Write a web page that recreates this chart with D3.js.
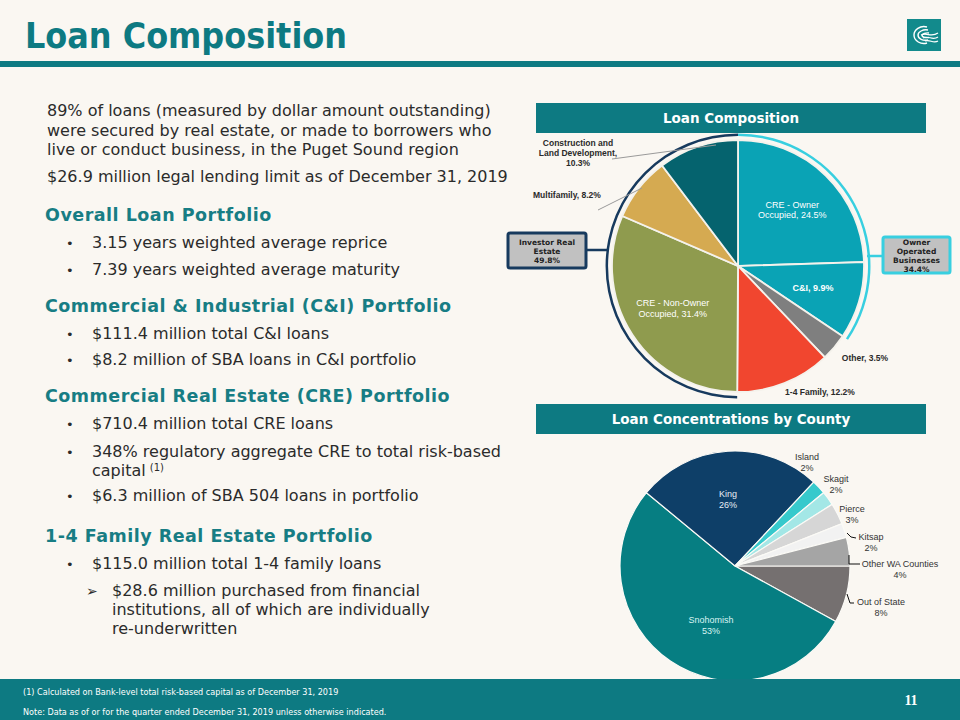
<!DOCTYPE html>
<html><head><meta charset="utf-8">
<script src="https://cdn.jsdelivr.net/npm/d3@7"></script>
<style>html,body{margin:0;padding:0;background:#faf7f2;} svg{display:block}</style>
</head><body><svg id="c" width="960" height="720"></svg>
<script>
// ---------------- DATA ----------------
const loanCategories = ["CRE - Owner Occupied","C&I","Other","1-4 Family","CRE - Non-Owner Occupied","Multifamily","Construction and Land Development"];
const loanValues = [24.5, 9.9, 3.5, 12.2, 31.4, 8.2, 10.3];
const loanLabelLines = [["CRE - Owner","Occupied, 24.5%"],["C&I, 9.9%"],["Other, 3.5%"],["1-4 Family, 12.2%"],["CRE - Non-Owner","Occupied, 31.4%"],["Multifamily, 8.2%"],["Construction and","Land Development,","10.3%"]];
const groupNames = ["Owner Operated Businesses","Investor Real Estate"];
const groupValues = [34.4, 49.8];
const countyCategories = ["Out of State","Snohomish","King","Island","Skagit","Pierce","Kitsap","Other WA Counties"];
const countyValues = [8, 53, 26, 2, 2, 3, 2, 4];

const introLines = ["89% of loans (measured by dollar amount outstanding)","were secured by real estate, or made to borrowers who","live or conduct business, in the Puget Sound region"];
const limitLine = "$26.9 million legal lending limit as of December 31, 2019";
const sections = [
  {heading:"Overall Loan Portfolio", items:[{t:"b",lines:["3.15 years weighted average reprice"]},{t:"b",lines:["7.39 years weighted average maturity"]}]},
  {heading:"Commercial & Industrial (C&I) Portfolio", items:[{t:"b",lines:["$111.4 million total C&I loans"]},{t:"b",lines:["$8.2 million of SBA loans in C&I portfolio"]}]},
  {heading:"Commercial Real Estate (CRE) Portfolio", items:[{t:"b",lines:["$710.4 million total CRE loans"]},{t:"b",lines:["348% regulatory aggregate CRE to total risk-based","capital"],sup:"(1)"},{t:"b",lines:["$6.3 million of SBA 504 loans in portfolio"]}]},
  {heading:"1-4 Family Real Estate Portfolio", items:[{t:"b",lines:["$115.0 million total 1-4 family loans"]},{t:"a",lines:["$28.6 million purchased from financial","institutions, all of which are individually","re-underwritten"]}]}
];
const footnotes = ["(1) Calculated on Bank-level total risk-based capital  as of December 31, 2019","Note: Data as of or for the quarter ended December 31, 2019 unless otherwise indicated."];
const pageNumber = "11";

// ---------------- STYLES ----------------
const TEAL = "#0d7a82";
const HEAD = "#177d84";
const TXT = "#2b2b2b";
const loanColors = ["#0aa3b5","#0aa3b5","#7f7f7f","#f1462f","#8f9b4e","#d5aa51","#05636e"];
const countyColors = ["#757070","#067e82","#0e3f68","#36c9cc","#a3e7e6","#d6d6d6","#f2f2f2","#a5a5a5"];
const BODY = "'DejaVu Sans', Verdana, sans-serif";

const svg = d3.select("#c");
svg.append("rect").attr("width",960).attr("height",720).attr("fill","#faf7f2");

// Title
svg.append("text").attr("x",25).attr("y",48).attr("fill",TEAL)
  .style("font-family","'DejaVu Sans Condensed','DejaVu Sans',sans-serif").style("font-weight","bold").style("font-size","35.5px")
  .text("Loan Composition");
svg.append("rect").attr("x",0).attr("y",61).attr("width",960).attr("height",6).attr("fill",TEAL);

// Logo
const logo = svg.append("g").attr("transform","translate(907,19)");
logo.append("rect").attr("width",34).attr("height",32).attr("fill","#128a8c");
["M20,8 C13,6 7,11 7,16 C7,22 14,26 20,24","M21,11 C16,10 11,13 11,16 C11,20 16,22 21,21","M22,14 C19,13.5 15,15 15,16.5 C15,18 18,19 22,18.5"].forEach(p=>{
  logo.append("path").attr("d",p).attr("fill","none").attr("stroke","#fff").attr("stroke-width",1.4);
});
["M14,16 C20,13 24,19 31,14","M16,19 C22,16 25,22 31,18","M18,22 C23,20 26,25 31,22"].forEach(p=>{
  logo.append("path").attr("d",p).attr("fill","none").attr("stroke","#fff").attr("stroke-width",1.2);
});

// ---------------- LEFT TEXT ----------------
const left = svg.append("g").style("font-family",BODY);
introLines.forEach((l,i)=>{
  left.append("text").attr("x",47).attr("y",116+i*19.5).attr("fill",TXT).style("font-size","16px").text(l);
});
left.append("text").attr("x",47).attr("y",182).attr("fill",TXT).style("font-size","16px").text(limitLine);

const headingY = [221,312,402,542];
const itemY = [[[248],[275]],[[339],[365]],[[429],[457,476],[501]],[[569],[596,615,634]]];
sections.forEach((s,si)=>{
  left.append("text").attr("x",45).attr("y",headingY[si]).attr("fill",HEAD)
    .style("font-size","17.5px").style("font-weight","bold").style("letter-spacing","0.5px").text(s.heading);
  s.items.forEach((it,ii)=>{
    const ys = itemY[si][ii];
    if(it.t==="b"){
      left.append("text").attr("x",66).attr("y",ys[0]).attr("fill",TXT).style("font-size","13px").text("•");
    } else {
      left.append("text").attr("x",86).attr("y",ys[0]).attr("fill",TXT).style("font-size","14px").style("font-weight","bold").text("➢");
    }
    const x0 = it.t==="b" ? 92 : 112;
    it.lines.forEach((ln,li)=>{
      const t = left.append("text").attr("x",x0).attr("y",ys[li]).attr("fill",TXT).style("font-size","16px").text(ln);
      if(it.sup && li===it.lines.length-1){
        t.append("tspan").attr("dx",4).attr("dy",-5).style("font-size","10px").text(it.sup);
      }
    });
  });
});

// ---------------- PANEL HEADERS ----------------
function header(y, label){
  svg.append("rect").attr("x",536).attr("y",y).attr("width",390).attr("height",30).attr("fill",TEAL);
  svg.append("text").attr("x",731).attr("y",y+20).attr("text-anchor","middle").attr("fill","#fff")
    .style("font-family",BODY).style("font-weight","bold").style("font-size","13.5px").text(label);
}
header(103,"Loan Composition");
header(404,"Loan Concentrations by County");

// ---------------- PIE 1 ----------------
const c1 = {x:738, y:266}, R1 = 126;
const pie1 = d3.pie().sort(null).value(d=>d);
const arcs1 = pie1(loanValues);
const g1 = svg.append("g").attr("transform",`translate(${c1.x},${c1.y})`);
const arc1 = d3.arc().innerRadius(0).outerRadius(R1);
g1.selectAll("path.s").data(arcs1).enter().append("path").attr("class","s")
  .attr("d",arc1).attr("fill",(d,i)=>loanColors[i]).attr("stroke","#f4f2ec").attr("stroke-width",1.8);

// group arcs
const ringArc = d3.arc().innerRadius(130).outerRadius(132.5);
const ownerSpan = {startAngle:arcs1[0].startAngle, endAngle:arcs1[1].endAngle};
const investorSpan = {startAngle:arcs1[4].startAngle, endAngle:arcs1[6].endAngle};
g1.append("path").attr("d",ringArc(ownerSpan)).attr("fill","#38cfe0");
g1.append("path").attr("d",ringArc(investorSpan)).attr("fill","#173a5e");

// inner labels
const labelFont = "'Liberation Sans',Arial,sans-serif";
const innerArc = d3.arc().innerRadius(78).outerRadius(78);
[0,1,4].forEach(i=>{
  const [x,y] = innerArc.centroid(arcs1[i]);
  const lines = loanLabelLines[i];
  const t = g1.append("text").attr("text-anchor","middle").attr("fill","#fff")
    .style("font-family",labelFont).style("font-size","9px").style("font-weight", i===1?"bold":"normal");
  lines.forEach((ln,li)=>t.append("tspan").attr("x",x).attr("y",y+3+(li-(lines.length-1)/2)*10.5).text(ln));
});
// outer labels (annotation offsets relative to pie centre)
const outerLabelPos = {2:[127,92,"middle"],3:[82,126,"middle"],5:[-205,-71,"start"],6:[-160,-113,"middle"]};
const leaders = {5:[[-140,-56],[-96,-78]], 6:[[-126,-107],[-22,-121]]};
Object.keys(outerLabelPos).forEach(k=>{
  const i=+k, [x,y,anc]=outerLabelPos[k], lines=loanLabelLines[i];
  const t = g1.append("text").attr("text-anchor",anc).attr("fill","#2a2a2a")
    .style("font-family",labelFont).style("font-size","8.5px").style("font-weight","bold");
  lines.forEach((ln,li)=>t.append("tspan").attr("x",x).attr("y",y+3+(li-(lines.length-1)/2)*9.7).text(ln));
});
Object.keys(leaders).forEach(k=>{
  g1.append("path").attr("d",d3.line()(leaders[k])).attr("stroke","#9a9a9a").attr("stroke-width",1).attr("fill","none");
});

// group boxes
function box(x,y,w,h,stroke,lines,lineToX,lineY,fromX){
  svg.append("line").attr("x1",fromX).attr("x2",lineToX).attr("y1",lineY).attr("y2",lineY).attr("stroke",stroke).attr("stroke-width",2.5);
  svg.append("rect").attr("x",x).attr("y",y).attr("width",w).attr("height",h).attr("rx",2)
    .attr("fill","#c1c1c1").attr("stroke",stroke).attr("stroke-width",3);
  const t = svg.append("text").attr("text-anchor","middle").attr("fill","#222")
    .style("font-family",BODY).style("font-size","7.5px").style("font-weight","bold");
  lines.forEach((ln,li)=>t.append("tspan").attr("x",x+w/2).attr("y",y+h/2+3+(li-(lines.length-1)/2)*9).text(ln));
}
box(508,233,78,35,"#173a5e",["Investor Real","Estate",groupValues[1].toFixed(1)+"%"],608,250,586);
box(883,237,67,36,"#38cfe0",["Owner","Operated","Businesses",groupValues[0].toFixed(1)+"%"],883,256,867);

// ---------------- PIE 2 ----------------
const c2 = {x:735, y:566}, R2 = 115;
const pie2 = d3.pie().sort(null).value(d=>d).startAngle(Math.PI/2).endAngle(Math.PI/2+2*Math.PI);
const arcs2 = pie2(countyValues);
const g2 = svg.append("g").attr("transform",`translate(${c2.x},${c2.y})`);
const arc2 = d3.arc().innerRadius(0).outerRadius(R2);
g2.selectAll("path").data(arcs2).enter().append("path")
  .attr("d",arc2).attr("fill",(d,i)=>countyColors[i]).attr("stroke","#fbfaf6").attr("stroke-width",1.2);

const cFont = "'Liberation Sans',Arial,sans-serif";
function cLabel(x,y,lines,fill){
  lines.forEach((ln,li)=>g2.append("text").attr("text-anchor","middle").attr("fill",fill)
    .style("font-family",cFont).style("font-size","9px").attr("x",x).attr("y",y+li*10.5).text(ln));
}
const countyLabelPos = [[146,41],[-24,59],[-7,-67],[72,-104],[101,-82],[117,-52],[136,-24],[165,3]];
arcs2.forEach((a,i)=>{
  const inner = (i===1||i===2);
  const [x,y] = countyLabelPos[i];
  cLabel(x,y-2,[countyCategories[i], countyValues[i]+"%"], inner?(i===1?"#d8f4f2":"#e8eef5"):"#333");
});
// leader lines
[[[112,-33],[116,-29],[121,-28]],[[114,-11],[114,-2],[125,-2]],[[112,28],[115,37],[119,37]]].forEach(p=>{
  g2.append("path").attr("d",d3.line()(p)).attr("stroke","#111").attr("stroke-width",1).attr("fill","none");
});

// ---------------- FOOTER ----------------
svg.append("rect").attr("x",0).attr("y",679).attr("width",960).attr("height",41).attr("fill",TEAL);
footnotes.forEach((f,i)=>{
  svg.append("text").attr("x",23).attr("y",695+i*20).attr("fill","#fff")
    .style("font-family","'DejaVu Sans Condensed',sans-serif").style("font-size","9px").text(f);
});
svg.append("text").attr("x",911).attr("y",705).attr("text-anchor","middle").attr("fill","#fff")
  .style("font-family","'Liberation Serif',serif").style("font-weight","bold").style("font-size","14px").text(pageNumber);
</script></body></html>
